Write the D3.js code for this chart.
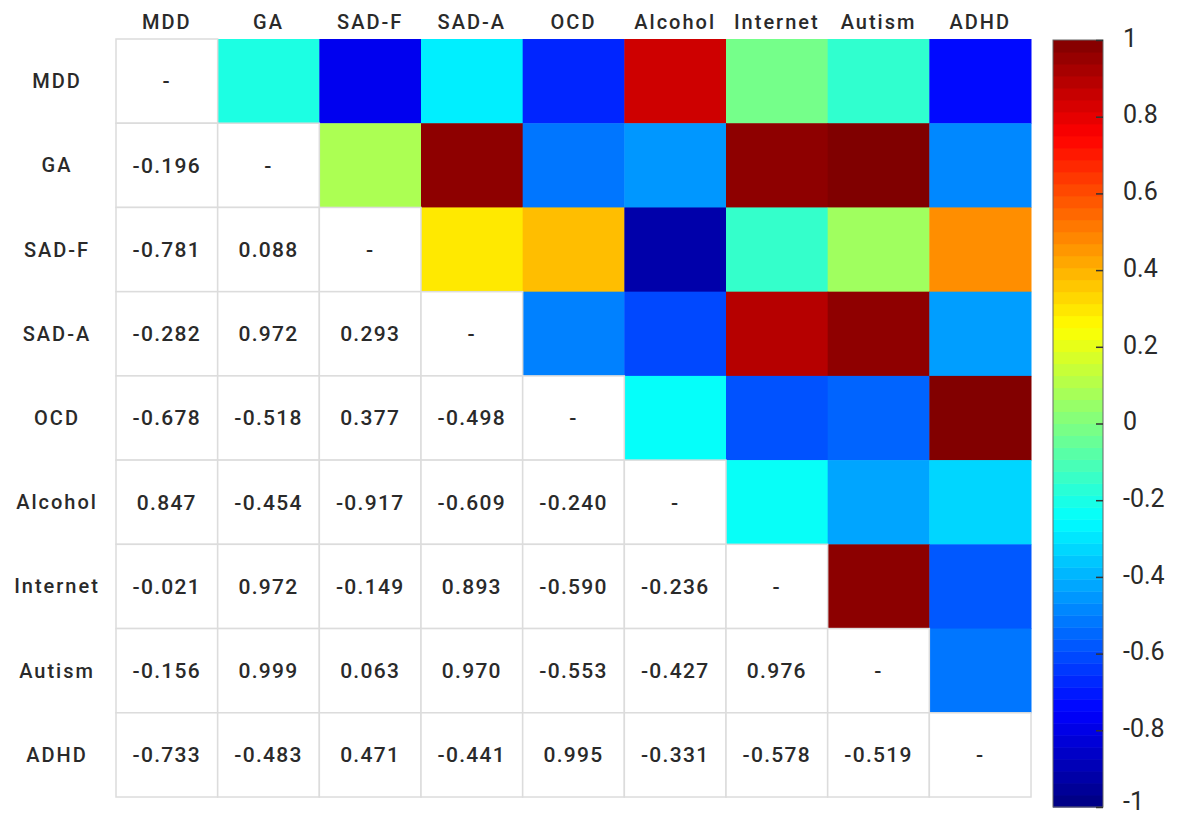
<!DOCTYPE html>
<html>
<head>
<meta charset="utf-8">
<script src="https://cdn.jsdelivr.net/npm/d3@7"></script>
<style>
  body { margin: 0; background: #fff; }
  text { font-family: Roboto, "DejaVu Sans", sans-serif; font-weight: 500; fill: #2a2a2a; }
</style>
</head>
<body>
<div id="chart"></div>
<script>
// disorder names
var names = ["MDD", "GA", "SAD-F", "SAD-A", "OCD", "Alcohol", "Internet", "Autism", "ADHD"];

// lower triangle correlations, row by row
var rowGA       = [-0.196];
var rowSADF     = [-0.781, 0.088];
var rowSADA     = [-0.282, 0.972, 0.293];
var rowOCD      = [-0.678, -0.518, 0.377, -0.498];
var rowAlcohol  = [0.847, -0.454, -0.917, -0.609, -0.240];
var rowInternet = [-0.021, 0.972, -0.149, 0.893, -0.590, -0.236];
var rowAutism   = [-0.156, 0.999, 0.063, 0.970, -0.553, -0.427, 0.976];
var rowADHD     = [-0.733, -0.483, 0.471, -0.441, 0.995, -0.331, -0.578, -0.519];

var lower = [[], rowGA, rowSADF, rowSADA, rowOCD, rowAlcohol, rowInternet, rowAutism, rowADHD];

// colorbar ticks
var cbTicks = [1, 0.8, 0.6, 0.4, 0.2, 0, -0.2, -0.4, -0.6, -0.8, -1];

var width = 1180, height = 816;

var svg = d3.select("#chart")
  .append("svg")
  .attr("width", width)
  .attr("height", height);

// matlab style jet colormap
function jet(t) {
  var c = v => Math.round(255 * Math.max(0, Math.min(1, v)));
  return d3.rgb(c(1.5 - Math.abs(4 * t - 3)), c(1.5 - Math.abs(4 * t - 2)), c(1.5 - Math.abs(4 * t - 1)));
}
var norm = d3.scaleLinear().domain([-1, 1]).range([0, 1]).clamp(true);
var color = v => jet(norm(v));

var x = d3.scaleBand().domain(names).range([116, 1031]);
var y = d3.scaleBand().domain(names).range([39, 797]);

// build cell list
var cells = [];
names.forEach((r, i) => {
  names.forEach((c, j) => {
    var v = null;
    if (j < i) v = lower[i][j];
    else if (j > i) v = lower[j][i];
    cells.push({row: r, col: c, i: i, j: j, v: v});
  });
});

// upper triangle: coloured cells
svg.append("g").selectAll("rect")
  .data(cells.filter(d => d.j > d.i))
  .enter().append("rect")
  .attr("x", d => x(d.col))
  .attr("y", d => y(d.row))
  .attr("width", x.bandwidth() + 0.5)
  .attr("height", y.bandwidth() + 0.5)
  .attr("fill", d => color(d.v));

// lower triangle + diagonal: white cells with text
var low = svg.append("g").selectAll("g")
  .data(cells.filter(d => d.j <= d.i))
  .enter().append("g");

low.append("rect")
  .attr("x", d => x(d.col))
  .attr("y", d => y(d.row))
  .attr("width", x.bandwidth())
  .attr("height", y.bandwidth())
  .attr("fill", "#fff")
  .attr("stroke", "#dcdcdc")
  .attr("stroke-width", 1.5);

low.append("text")
  .attr("x", d => x(d.col) + x.bandwidth() / 2)
  .attr("y", d => y(d.row) + y.bandwidth() / 2)
  .attr("dy", "0.35em")
  .attr("text-anchor", "middle")
  .style("font-size", "21px")
  .style("letter-spacing", "1.3px")
  .text(d => d.v === null ? "-" : d.v.toFixed(3));

// column labels
svg.append("g").selectAll("text")
  .data(names)
  .enter().append("text")
  .attr("x", d => x(d) + x.bandwidth() / 2)
  .attr("y", 22)
  .attr("dy", "0.35em")
  .attr("text-anchor", "middle")
  .style("font-size", "20px")
  .style("letter-spacing", "2px")
  .text(d => d);

// row labels
svg.append("g").selectAll("text")
  .data(names)
  .enter().append("text")
  .attr("x", 57)
  .attr("y", d => y(d) + y.bandwidth() / 2)
  .attr("dy", "0.35em")
  .attr("text-anchor", "middle")
  .style("font-size", "20px")
  .style("letter-spacing", "2px")
  .text(d => d);

// colorbar
var cbX = 1053, cbW = 50;
var cb = d3.scaleLinear().domain([-1, 1]).range([807, 40]);
var nBands = 64;
var bands = d3.range(nBands).map(k => -1 + 2 * k / nBands);

svg.append("g").selectAll("rect")
  .data(bands)
  .enter().append("rect")
  .attr("x", cbX)
  .attr("y", d => cb(d + 2 / nBands))
  .attr("width", cbW)
  .attr("height", cb(-1) - cb(-1 + 2 / nBands) + 0.5)
  .attr("fill", d => color(d + 1 / nBands));

svg.append("rect")
  .attr("x", cbX)
  .attr("y", cb(1))
  .attr("width", cbW)
  .attr("height", cb(-1) - cb(1))
  .attr("fill", "none")
  .attr("stroke", "#666")
  .attr("stroke-width", 1);

var cbAxis = svg.append("g")
  .attr("transform", "translate(" + (cbX + cbW) + ",0)")
  .call(d3.axisRight(cb)
    .tickValues(cbTicks)
    .tickSize(-7)
    .tickPadding(20)
    .tickFormat(d => String(+d.toFixed(1))));

cbAxis.select(".domain").remove();
cbAxis.selectAll("line").attr("stroke", "#333").attr("stroke-width", 1.5);
cbAxis.selectAll("text")
  .attr("dy", d => d === -1 ? "0.1em" : "0.25em")
  .style("font-family", "Roboto, sans-serif")
  .style("font-weight", "400")
  .style("font-size", "25px")
  .attr("fill", "#111");
</script>
</body>
</html>
